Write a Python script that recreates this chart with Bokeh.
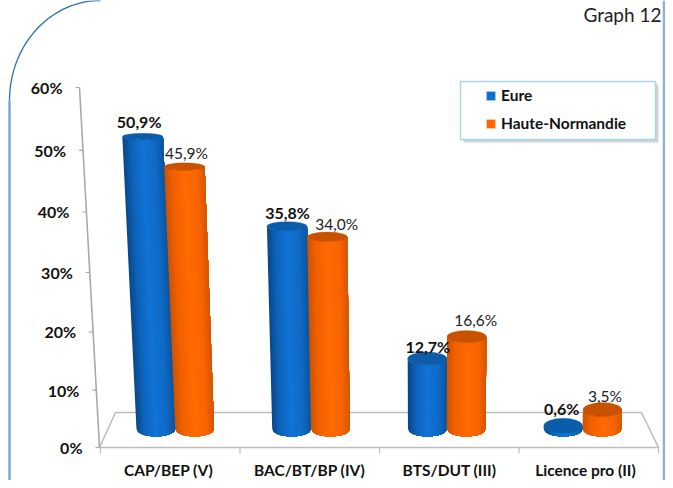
from bokeh.plotting import figure
from bokeh.embed import file_html
from bokeh.resources import INLINE
from bokeh.models import Range1d, Legend, LegendItem
from bokeh.core.properties import value
import math

# ---------- data ----------
categories = ["CAP/BEP (V)", "BAC/BT/BP (IV)", "BTS/DUT (III)", "Licence pro (II)"]
eure = [50.9, 35.8, 12.7, 0.6]
haute_normandie = [45.9, 34.0, 16.6, 3.5]
eure_labels = ["50,9%", "35,8%", "12,7%", "0,6%"]
hn_labels = ["45,9%", "34,0%", "16,6%", "3,5%"]
y_ticks = [0, 10, 20, 30, 40, 50, 60]
y_tick_labels = ["0%", "10%", "20%", "30%", "40%", "50%", "60%"]

# ---------- layout (reference pixels) ----------
W, H = 665, 480
PX0, DPX = 174.75, 135.75     # category centre at the base, px per category
PY0, DPY = 428.5, 5.48        # zero of the bars, px per percent
C = 0.0009                    # perspective strength
XC = (430 - PX0) / DPX
HW = 19.4 / DPX
OFF = 19.4 / DPX

def px(x):
    return (x - PX0) / DPX

def py(y):
    return (PY0 - y) / DPY

def proj(x, v):
    f = 1 / (1 - C * v)
    return XC + (x - XC) * f, v * f

def semi(v):
    return (7.5 - 0.08 * v) / DPY

def axis_px_y(v):
    return 447 - 5.676 * v / (1 - C * v)

def axis_px_x(y):
    return 99 + (y - 447) * 20 / 360

def lerp_color(stops, t):
    for (a, ca), (b, cb) in zip(stops, stops[1:]):
        if t <= b:
            k = (t - a) / (b - a)
            return "#%02x%02x%02x" % tuple(round(x + (y - x) * k) for x, y in zip(ca, cb))
    return "#%02x%02x%02x" % stops[-1][1]

BLUE = [(-1, (9, 70, 135)), (-0.6, (13, 98, 184)), (0.0, (17, 116, 214)), (0.6, (15, 106, 196)), (1, (11, 84, 158))]
ORANGE = [(-1, (205, 82, 0)), (-0.6, (240, 96, 0)), (0.0, (255, 106, 0)), (0.6, (250, 100, 0)), (1, (212, 86, 0))]
BLUE_CAP, ORANGE_CAP = "#0b5dab", "#c95200"

p = figure(width=W, height=H, output_backend="svg", toolbar_location=None,
           x_range=Range1d(px(0), px(W)), y_range=Range1d(py(H), py(0)),
           min_border=0, outline_line_color=None, x_axis_type=None, y_axis_type=None)
p.grid.visible = False
p.background_fill_color = "white"
p.border_fill_color = "white"

# page frame: rounded corner on the left, plain line on the right
arc_t = [i / 40 * math.pi / 2 for i in range(41)]
p.line([px(100 - 91 * math.cos(t)) for t in arc_t], [py(100 - 100 * math.sin(t)) for t in arc_t],
       line_color="#2a6fb0", line_width=1.3)
p.line([px(9), px(9)], [py(100), py(H)], line_color="#7ea6d0", line_width=2.5)
p.line([px(663.5), px(663.5)], [py(0), py(H)], line_color="#8fb0d4", line_width=2.5)

# floor
GREY = "#bdbdbd"
p.line([px(99), px(115), px(641), px(658), px(99)], [py(447), py(412), py(412), py(447), py(447)],
       line_color=GREY, line_width=1.6)
for i in range(len(categories) + 1):
    xt = 100 + 139.5 * i
    p.line([px(xt), px(xt)], [py(447), py(453)], line_color=GREY, line_width=1.2)

# slanted value axis
ax_y = [axis_px_y(v) for v in y_ticks]
ax_x = [axis_px_x(y) for y in ax_y]
p.line([px(x) for x in ax_x], [py(y) for y in ax_y], line_color="#a9a9a9", line_width=1.6)
for x, y in zip(ax_x, ax_y):
    p.line([px(x - 4), px(x)], [py(y), py(y)], line_color="#a9a9a9", line_width=1.2)
p.text(x=[px(x - 17) for x in ax_x], y=[py(y) for y in ax_y], text=y_tick_labels,
       text_font=value("Lato"), text_font_style="bold", text_font_size="16px",
       text_color="#111111", text_align="right", text_baseline="middle")

# cylinders: left-to-right overlapping slices give a shaded body without seams
def cylinder(xc, v, stops, cap):
    n = 32
    ts = [-1 + 2 * k / n for k in range(n + 1)]
    arc = [math.sqrt(max(0, 1 - t * t)) for t in ts]
    base = [proj(xc + HW * t, 0) for t in ts]
    top = [proj(xc + HW * t, v) for t in ts]
    xs, ys, cols = [], [], []
    for k in range(n):
        xs.append([base[j][0] for j in range(k, n + 1)] + [top[j][0] for j in range(n, k - 1, -1)])
        ys.append([base[j][1] - semi(0) * arc[j] for j in range(k, n + 1)]
                  + [top[j][1] - semi(v) * arc[j] for j in range(n, k - 1, -1)])
        cols.append(lerp_color(stops, (ts[k] + ts[k + 1]) / 2))
    p.patches(xs, ys, fill_color=cols, line_color=None)
    xcap, ycap = proj(xc, v)
    f = 1 / (1 - C * v)
    p.ellipse([xcap], [ycap], width=2 * HW * f, height=2 * semi(v), fill_color=cap, line_color=cap, line_width=0.3)
    return xcap, ycap + semi(v)

eure_tops, hn_tops = [], []
for i, (a, b) in enumerate(zip(eure, haute_normandie)):
    eure_tops.append(cylinder(i - OFF, a, BLUE, BLUE_CAP))
    hn_tops.append(cylinder(i + OFF, b, ORANGE, ORANGE_CAP))

# data labels (pixel nudges relative to the top of each cylinder)
eure_dx, eure_dy = [-3.5, 0.5, 0.5, -1.5], [-11.5, -8.7, -6, -10]
hn_dx, hn_dy = [2, 9.5, 9, 2.5], [-10, -8, -10, -7]
p.text(x=[t[0] for t in eure_tops], y=[t[1] for t in eure_tops], text=eure_labels,
       x_offset=eure_dx, y_offset=eure_dy, text_font=value("Lato"), text_font_style="bold",
       text_font_size="16px", text_color="#111111", text_align="center", text_baseline="middle")
p.text(x=[t[0] for t in hn_tops], y=[t[1] for t in hn_tops], text=hn_labels,
       x_offset=hn_dx, y_offset=hn_dy, text_font=value("Lato"),
       text_font_size="15.5px", text_color="#222222", text_align="center", text_baseline="middle")

# category labels
cat_px = [168, 309, 449, 585]
p.text(x=[px(x) for x in cat_px], y=[py(469)] * 4, text=categories,
       text_font=value("Lato"), text_font_style="bold", text_font_size="15.5px",
       text_color="#111111", text_align="center", text_baseline="middle")

# title tag
p.text(x=[px(661)], y=[py(2)], text=["Graph 12"], text_font=value("Lato"),
       text_font_size="19px", text_color="#222222", text_align="right", text_baseline="top")

# legend panel
for d, al in [(4, 0.05), (3, 0.07), (2, 0.09)]:
    p.quad(left=[px(460 + d)], right=[px(655 + d)], top=[py(81 + d)], bottom=[py(139 + d)],
           fill_color="#000000", fill_alpha=al, line_color=None)
p.quad(left=[px(460)], right=[px(655)], top=[py(81)], bottom=[py(139)],
       fill_color="white", line_color="#a5d8ef", line_width=1.5)
r1 = p.quad(left=[0], right=[0], top=[0], bottom=[0], fill_color="#0f6fcb", line_color=None)
r2 = p.quad(left=[0], right=[0], top=[0], bottom=[0], fill_color="#ff6600", line_color=None)
legend = Legend(items=[LegendItem(label="Eure", renderers=[r1]),
                       LegendItem(label="Haute-Normandie", renderers=[r2])],
                location=(485, H - 132), orientation="vertical", padding=0, margin=0, spacing=10,
                border_line_color=None, background_fill_alpha=0,
                glyph_width=11, glyph_height=11, label_standoff=5, label_height=18,
                label_text_font="Lato", label_text_font_style="bold", label_text_font_size="15.5px",
                label_text_color="#111111")
p.add_layout(legend, "center")

open("out.html", "w").write(file_html(p, INLINE))
